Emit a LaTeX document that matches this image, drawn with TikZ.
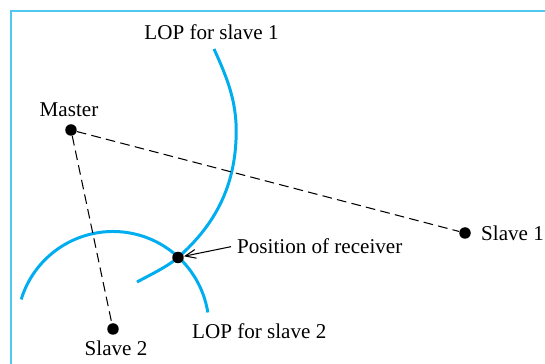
\documentclass[tikz,border=0pt]{standalone}
\usepackage{fontspec}
\setmainfont{Liberation Serif}
\usetikzlibrary{arrows.meta, positioning}
\definecolor{lopBlue}  {RGB}{0,   174, 239}
\definecolor{frameBlue}{RGB}{80,  200, 240}

\begin{document}
\begin{tikzpicture}[
  x=0.02cm, y=-0.02cm,
  font=\fontsize{12}{14}\selectfont,
  station/.style = {circle, fill=black, inner sep=0pt, minimum size=0.23cm},
  baseline/.style = {dashed, dash pattern=on 5.5pt off 3pt, line width=0.6pt},
  lop/.style = {lopBlue, line width=1.7pt},
  pointer/.style = {-{Straight Barb[length=6pt, width=5pt]}, line width=0.6pt}
]
  \useasboundingbox (0,0) rectangle (545,364);
  \draw[frameBlue, line width=1.1pt] (11,364) -- (11,11) -- (545,11);

  \coordinate (fix) at (178,257.5);

  % lines of position
  \draw[lop] (214,49) .. controls (228.7,81) and (237.8,105) .. (236,140)
    .. controls (234,185) and (217,223.2) .. (fix)
    .. controls (167.5,266.7) and (149.3,275.3) .. (137,282);
  \draw[lop] (113,327.5) ++(197:96) arc[start angle=197, end angle=351, radius=96];

  % stations
  \node[station] (m)  at (71,130)  {};
  \node[station] (s1) at (465,233) {};
  \node[station] (s2) at (113,329) {};
  \node[station] (r)  at (fix)     {};

  \draw[baseline] (m) -- (s1);
  \draw[baseline] (m) -- (s2);

  % labels
  \node[anchor=base]      (ml)  at (69,117)  {Master};
  \node[anchor=base west] (s1l) at (475,240.5) {Slave 1};
  \node[anchor=base]      (s2l) at (116,356) {Slave 2};
  \node[anchor=base]      (l1)  at (211.5,40) {LOP for slave 1};
  \node[anchor=base west] (l2)  at (186,339) {LOP for slave 2};
  \node[anchor=base west] (rl)  at (231,254) {Position of receiver};

  \draw[pointer] (rl.west) -- (r);
\end{tikzpicture}
\end{document}
